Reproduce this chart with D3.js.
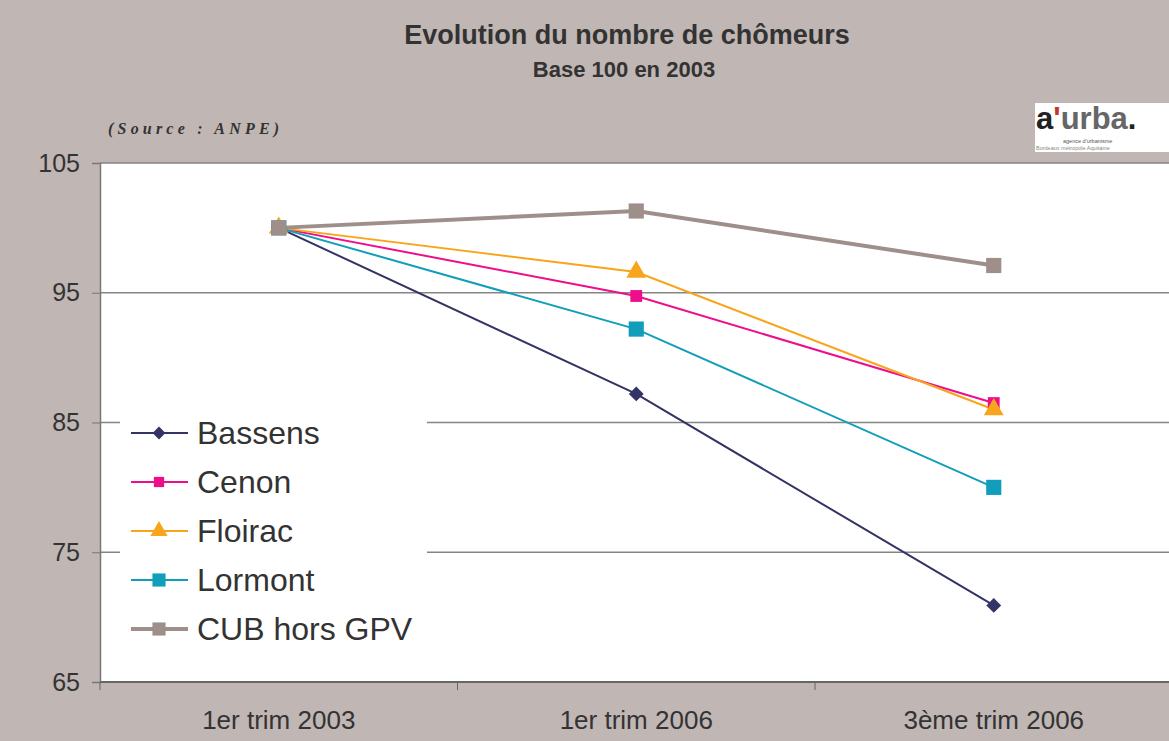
<!DOCTYPE html>
<html>
<head>
<meta charset="utf-8">
<script src="https://cdn.jsdelivr.net/npm/d3@7"></script>
<style>
  body { margin:0; background:#c0b6b3; }
  svg { display:block; font-family:"Liberation Sans", Arial, sans-serif; }
</style>
</head>
<body>
<svg></svg>
<script>
var categories = ["1er trim 2003", "1er trim 2006", "3ème trim 2006"];
var seriesNames = ["Bassens", "Cenon", "Floirac", "Lormont", "CUB hors GPV"];
var bassens = [100, 87.2, 70.9];
var cenon = [100, 94.75, 86.5];
var floirac = [100, 96.6, 86.0];
var lormont = [100, 92.2, 80.0];
var cub = [100, 101.3, 97.1];
var yTicks = [65, 75, 85, 95, 105];

var colors = ["#333366", "#ee0e8c", "#f8a51b", "#119ebb", "#9e8f8a"];
var symbols = [d3.symbolSquare, d3.symbolSquare, d3.symbolTriangle, d3.symbolSquare, d3.symbolSquare];
var rotations = [45, 0, 0, 0, 0];
var symSize = [110, 140, 170, 230, 230];
var widths = [2, 2, 2, 2, 4];

var series = [bassens, cenon, floirac, lormont, cub].map(function(v, i) {
  return {name: seriesNames[i], values: v, color: colors[i]};
});

var W = 1169, H = 741;
var svg = d3.select("svg").attr("width", W).attr("height", H);

svg.append("rect").attr("width", W).attr("height", H).attr("fill", "#c0b6b3");

var plotLeft = 100, plotTop = 163, plotBottom = 682, bandW = 357.5;

var xScale = d3.scalePoint()
               .domain(categories)
               .range([plotLeft + bandW / 2, plotLeft + bandW * 2.5]);

var yScale = d3.scaleLinear()
               .domain([65, 105])
               .range([plotBottom, plotTop]);

// plot area
svg.append("rect")
   .attr("x", plotLeft).attr("y", plotTop)
   .attr("width", W - plotLeft).attr("height", plotBottom - plotTop)
   .attr("fill", "#fff");

// gridlines
svg.selectAll(".grid")
   .data(yTicks.slice(1))
   .enter()
   .append("line")
   .attr("x1", plotLeft).attr("x2", W)
   .attr("y1", function(d) { return yScale(d); })
   .attr("y2", function(d) { return yScale(d); })
   .attr("stroke", "#858585")
   .attr("stroke-width", 1.4);

// y axis
var yAxis = d3.axisLeft(yScale).tickValues(yTicks).tickSize(8).tickPadding(12);
var gy = svg.append("g").attr("transform", "translate(" + plotLeft + ",0)").call(yAxis);
gy.select(".domain").attr("stroke", "#777").attr("stroke-width", 1.5);
gy.selectAll(".tick line").attr("stroke", "#777");
gy.selectAll("text").attr("font-size", 25).attr("fill", "#333")
  .attr("font-family", "Liberation Sans, Arial, sans-serif");

// x axis
var gx = svg.append("g").attr("transform", "translate(0," + plotBottom + ")");
gx.append("line").attr("x1", plotLeft).attr("x2", W).attr("stroke", "#666").attr("stroke-width", 2);
gx.selectAll(".xtick")
  .data(d3.range(4))
  .enter()
  .append("line")
  .attr("x1", function(d) { return plotLeft + d * bandW; })
  .attr("x2", function(d) { return plotLeft + d * bandW; })
  .attr("y1", 0).attr("y2", 8)
  .attr("stroke", "#666");
gx.selectAll(".xlab")
  .data(categories)
  .enter()
  .append("text")
  .attr("x", function(d) { return xScale(d); })
  .attr("y", 47)
  .attr("text-anchor", "middle")
  .attr("font-size", 26)
  .attr("fill", "#333")
  .text(function(d) { return d; });

// lines
var line = d3.line()
             .x(function(d, i) { return xScale(categories[i]); })
             .y(function(d) { return yScale(d); });

series.forEach(function(s, i) {
  svg.append("path")
     .attr("d", line(s.values))
     .attr("fill", "none")
     .attr("stroke", s.color)
     .attr("stroke-width", widths[i]);
});

series.forEach(function(s, i) {
  svg.selectAll(".m" + i)
     .data(s.values)
     .enter()
     .append("path")
     .attr("d", d3.symbol().type(symbols[i]).size(symSize[i]))
     .attr("transform", function(d, j) {
       return "translate(" + xScale(categories[j]) + "," + yScale(d) + ") rotate(" + rotations[i] + ")";
     })
     .attr("fill", s.color);
});

// legend
var lg = svg.append("g");
lg.append("rect").attr("x", 120).attr("y", 405).attr("width", 307).attr("height", 252).attr("fill", "#fff");
series.forEach(function(s, i) {
  var y = 433 + i * 49;
  lg.append("line").attr("x1", 131).attr("x2", 188).attr("y1", y).attr("y2", y)
    .attr("stroke", s.color).attr("stroke-width", widths[i]);
  lg.append("path")
    .attr("d", d3.symbol().type(symbols[i]).size(symSize[i] * 0.75))
    .attr("transform", "translate(159," + y + ") rotate(" + rotations[i] + ")")
    .attr("fill", s.color);
  lg.append("text").attr("x", 197).attr("y", y + 11)
    .attr("font-size", 32).attr("fill", "#333")
    .text(s.name);
});

// titles
svg.append("text").attr("x", 627).attr("y", 44).attr("text-anchor", "middle")
   .attr("font-size", 27).attr("font-weight", "bold").attr("fill", "#333")
   .text("Evolution du nombre de chômeurs");
svg.append("text").attr("x", 624).attr("y", 77).attr("text-anchor", "middle")
   .attr("font-size", 22).attr("font-weight", "bold").attr("fill", "#333")
   .text("Base 100 en 2003");
svg.append("text").attr("x", 108).attr("y", 134)
   .attr("font-family", "Liberation Serif, serif")
   .attr("font-style", "italic").attr("font-weight", "bold")
   .attr("font-size", 16).attr("letter-spacing", 4.2).attr("fill", "#333")
   .text("(Source : ANPE)");

// logo
var logo = svg.append("g");
logo.append("rect").attr("x", 1035).attr("y", 103).attr("width", 134).attr("height", 49).attr("fill", "#fff");
var lt = logo.append("text").attr("x", 1036).attr("y", 129).attr("font-size", 31).attr("font-weight", "bold");
lt.append("tspan").attr("fill", "#222").text("a");
lt.append("tspan").attr("fill", "#c0392b").text("'");
lt.append("tspan").attr("fill", "#666").text("urba");
lt.append("tspan").attr("fill", "#222").text(".");
logo.append("text").attr("x", 1063).attr("y", 143).attr("font-size", 5.5).attr("fill", "#555").text("agence d'urbanisme");
logo.append("text").attr("x", 1036).attr("y", 150).attr("font-size", 5.5).attr("fill", "#888").text("Bordeaux métropole Aquitaine");
</script>
</body>
</html>
